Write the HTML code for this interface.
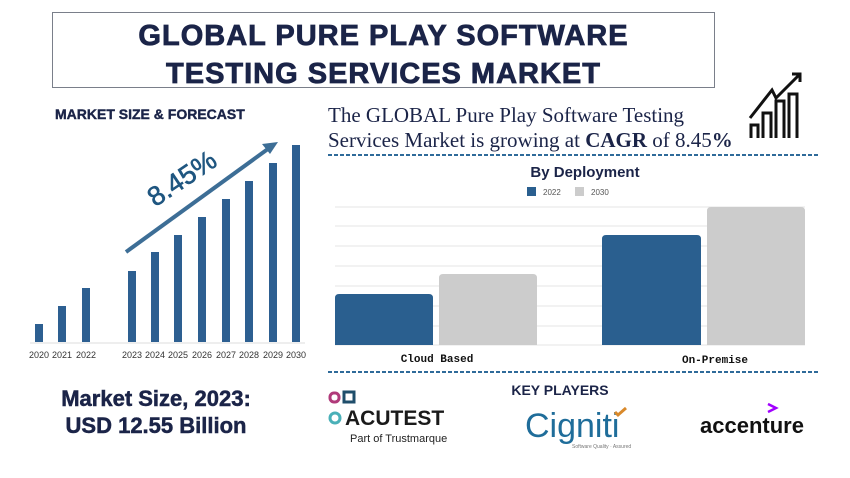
<!DOCTYPE html><html><head><style>
body{margin:0;width:850px;height:478px;background:#fff;overflow:hidden;position:relative;font-family:"Liberation Sans",sans-serif}
.a{position:absolute}
</style></head><body>
<div class="a" style="left:52px;top:12px;width:661px;height:74px;border:1px solid #7a7f8a"></div>
<div class="a" style="left:52px;top:17px;width:663px;text-align:center;font-weight:bold;font-size:29px;line-height:38px;color:#1b2448;letter-spacing:1px;-webkit-text-stroke:0.8px #1b2448">GLOBAL PURE PLAY SOFTWARE<br>TESTING SERVICES MARKET</div>
<div class="a" style="left:55px;top:106px;font-weight:bold;font-size:14px;color:#1b2448;-webkit-text-stroke:0.4px #1b2448">MARKET SIZE &amp; FORECAST</div>
<div class="a" style="left:328px;top:103px;font-family:'Liberation Serif',serif;font-size:21px;line-height:25px;color:#1b2448">The GLOBAL Pure Play Software Testing<br>Services Market is growing at <b>CAGR</b> of 8.45<b>%</b></div>
<svg class="a" style="left:0;top:0" width="850" height="478">
<g stroke="#111" stroke-width="3" fill="none"><path d="M751 138v-13h7v13M763 138v-25h8v25M776 138v-37h8v37M789 138v-44h8v44"/><path d="M750 118l22-28 4 8 24-24M792 74h8v8"/></g>
<line x1="328" y1="155" x2="818" y2="155" stroke="#2f6b9a" stroke-width="2" stroke-dasharray="4,2"/>
<line x1="328" y1="372" x2="818" y2="372" stroke="#2f6b9a" stroke-width="2" stroke-dasharray="4,2"/>
<g fill="#2d5f91">
<rect x="35" y="324" width="8" height="18"/><rect x="58" y="306" width="8" height="36"/><rect x="82" y="288" width="8" height="54"/>
<rect x="128" y="271" width="8" height="71"/><rect x="151" y="252" width="8" height="90"/><rect x="174" y="235" width="8" height="107"/><rect x="198" y="217" width="8" height="125"/><rect x="222" y="199" width="8" height="143"/><rect x="245" y="181" width="8" height="161"/><rect x="269" y="163" width="8" height="179"/><rect x="292" y="145" width="8" height="197"/></g>
<line x1="30" y1="343" x2="305" y2="343" stroke="#ddd"/>
<g font-size="9" fill="#333" text-anchor="middle"><text x="39" y="358">2020</text><text x="62" y="358">2021</text><text x="86" y="358">2022</text><text x="132" y="358">2023</text><text x="155" y="358">2024</text><text x="178" y="358">2025</text><text x="202" y="358">2026</text><text x="226" y="358">2027</text><text x="249" y="358">2028</text><text x="273" y="358">2029</text><text x="296" y="358">2030</text></g>
<line x1="126" y1="252" x2="272" y2="146" stroke="#3d6e96" stroke-width="4"/><path d="M278 142l-16 2 8 10z" fill="#3d6e96"/>
<text x="187" y="186" transform="rotate(-34 187 186)" text-anchor="middle" font-size="27" fill="#1f5680" stroke="#1f5680" stroke-width="0.6">8.45%</text>
<text x="585" y="177" text-anchor="middle" font-weight="bold" font-size="15" fill="#1b2448">By Deployment</text>
<rect x="527" y="187" width="9" height="9" fill="#2a5f8f"/><text x="543" y="195" font-size="8" fill="#555">2022</text>
<rect x="575" y="187" width="9" height="9" fill="#ccc"/><text x="591" y="195" font-size="8" fill="#555">2030</text>
<g stroke="#e6e6e6"><line x1="335" y1="207" x2="805" y2="207"/><line x1="335" y1="226" x2="805" y2="226"/><line x1="335" y1="246" x2="805" y2="246"/><line x1="335" y1="266" x2="805" y2="266"/><line x1="335" y1="286" x2="805" y2="286"/><line x1="335" y1="306" x2="805" y2="306"/><line x1="335" y1="326" x2="805" y2="326"/><line x1="335" y1="345" x2="805" y2="345"/></g>
<path d="M335 345V298q0-4 4-4h90q4 0 4 4v47z" fill="#2a5f8f"/>
<path d="M439 345V278q0-4 4-4h90q4 0 4 4v67z" fill="#ccc"/>
<path d="M602 345V239q0-4 4-4h91q4 0 4 4v106z" fill="#2a5f8f"/>
<path d="M707 345V211q0-4 4-4h90q4 0 4 4v134z" fill="#ccc"/>
<g font-family="Liberation Mono,monospace" font-weight="bold" font-size="11" fill="#111" text-anchor="middle"><text x="437" y="362">Cloud Based</text><text x="715" y="363">On-Premise</text></g>
<text x="560" y="395" text-anchor="middle" font-weight="bold" font-size="14" fill="#1b2448">KEY PLAYERS</text>
<rect x="330" y="393" width="9" height="9" rx="4" fill="none" stroke="#b03a7a" stroke-width="3"/><rect x="344" y="392" width="10" height="10" fill="none" stroke="#1f4e6b" stroke-width="3"/>
<circle cx="335" cy="418" r="5" fill="none" stroke="#4ab0b8" stroke-width="3"/>
<text x="345" y="425" font-weight="bold" font-size="21" fill="#1a1a1a">ACUTEST</text>
<text x="350" y="442" font-size="11" fill="#222">Part of Trustmarque</text>
<text x="525" y="437" font-size="34" fill="#1f6d9a">Cigniti</text><path d="M615 412l3 3 8-7" stroke="#d9892b" stroke-width="3" fill="none"/>
<text x="572" y="448" font-size="5" fill="#777">Software Quality · Assured</text>
<text x="700" y="433" font-weight="bold" font-size="22" fill="#111">accenture</text>
<path d="M768 404l8 4-8 4" stroke="#a100ff" stroke-width="2.5" fill="none"/>
<text x="156" y="406" text-anchor="middle" font-weight="bold" font-size="22" fill="#1b2448" stroke="#1b2448" stroke-width="0.5">Market Size, 2023:</text>
<text x="156" y="433" text-anchor="middle" font-weight="bold" font-size="22" fill="#1b2448" stroke="#1b2448" stroke-width="0.5">USD 12.55 Billion</text>
</svg>
</body></html>
